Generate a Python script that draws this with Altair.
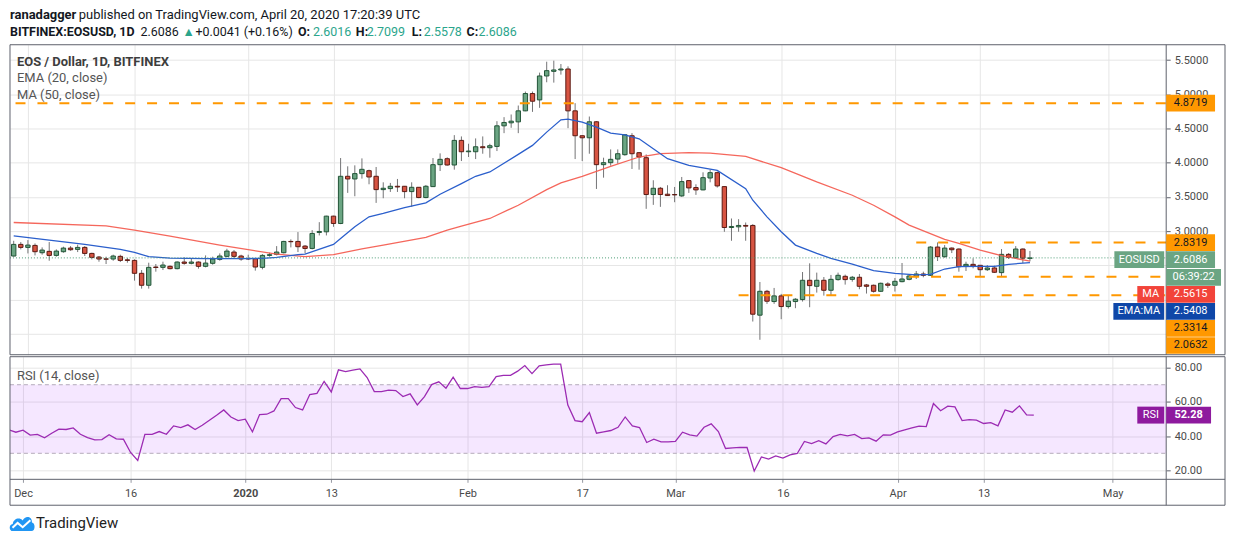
import altair as alt
import pandas as pd

# ---------------- values ----------------
start_date = "2019-11-29"   # first (partly hidden) daily candle

opens = [
    2.636, 2.806,
    2.762, 2.791, 2.684, 2.704, 2.645, 2.699, 2.752, 2.733, 2.762, 2.674,
    2.621, 2.594, 2.592, 2.631, 2.580, 2.572, 2.383, 2.208, 2.475, 2.470,
    2.485, 2.451, 2.548, 2.529, 2.548, 2.485, 2.529, 2.587, 2.631, 2.694, 2.636,
    2.598, 2.597, 2.470, 2.645, 2.660, 2.684, 2.849, 2.849, 2.781, 2.747,
    2.981, 2.990, 3.219, 3.112, 3.802, 3.763, 3.841, 3.884, 3.802, 3.607,
    3.622, 3.656, 3.656, 3.578, 3.641, 3.491, 3.651, 3.972, 4.059, 3.967, 4.327,
    4.161, 4.161, 4.234, 4.220, 4.239, 4.540, 4.584, 4.598, 4.759, 5.012,
    4.919, 5.269, 5.337, 5.357, 5.371, 4.759, 4.395, 4.365, 4.599, 3.972,
    4.001, 4.054, 4.118, 4.395, 4.147, 4.074, 3.535, 3.627, 3.540,
    3.535, 3.515, 3.739, 3.637, 3.603, 3.777, 3.855, 3.651, 3.053, 3.063,
    3.083, 3.083, 1.771, 2.120, 1.970, 2.053, 1.897, 1.970, 1.999, 2.281,
    2.193, 2.281, 2.135, 2.291, 2.339, 2.295, 2.325, 2.213, 2.208, 2.120, 2.227,
    2.208, 2.261, 2.295, 2.339, 2.373, 2.354, 2.767, 2.626, 2.752, 2.738,
    2.490, 2.514, 2.500, 2.436, 2.461, 2.393, 2.660, 2.611, 2.738, 2.6016,
]
highs = [
    2.859, 2.840,
    2.869, 2.820, 2.762, 2.840, 2.733, 2.772, 2.781, 2.801, 2.781, 2.684,
    2.636, 2.626, 2.655, 2.655, 2.606, 2.587, 2.431, 2.538, 2.519, 2.553,
    2.499, 2.558, 2.616, 2.606, 2.558, 2.645, 2.626, 2.674, 2.742, 2.723, 2.655,
    2.655, 2.606, 2.664, 2.684, 2.781, 2.859, 2.879, 2.986, 2.796, 3.015,
    3.131, 3.225, 3.225, 4.069, 3.948, 3.962, 4.064, 3.899, 3.938, 3.714,
    3.705, 3.763, 3.660, 3.714, 3.645, 3.675, 4.069, 4.137, 4.079, 4.404, 4.385,
    4.278, 4.356, 4.385, 4.278, 4.608, 4.667, 4.706, 4.837, 5.041, 5.041,
    5.318, 5.478, 5.493, 5.444, 5.410, 4.871, 4.400, 4.676, 4.608, 4.074,
    4.195, 4.195, 4.414, 4.433, 4.157, 4.122, 3.744, 3.646, 3.671,
    3.646, 3.792, 3.744, 3.685, 3.860, 3.899, 3.870, 3.656, 3.185, 3.175,
    3.126, 3.102, 2.256, 2.140, 2.169, 2.082, 2.057, 2.019, 2.402, 2.529,
    2.393, 2.329, 2.359, 2.393, 2.364, 2.344, 2.373, 2.227, 2.218, 2.247, 2.252,
    2.315, 2.534, 2.368, 2.417, 2.407, 2.781, 2.835, 2.796, 2.762, 2.747,
    2.553, 2.602, 2.504, 2.504, 2.495, 2.738, 2.679, 2.781, 2.747, 2.7099,
]
lows = [
    2.626, 2.733,
    2.674, 2.645, 2.655, 2.567, 2.626, 2.684, 2.713, 2.694, 2.636, 2.587,
    2.553, 2.519, 2.567, 2.548, 2.538, 2.276, 2.159, 2.159, 2.407, 2.431,
    2.441, 2.441, 2.509, 2.514, 2.451, 2.470, 2.509, 2.567, 2.616, 2.606, 2.567,
    2.577, 2.422, 2.441, 2.626, 2.645, 2.674, 2.762, 2.694, 2.674, 2.733,
    2.937, 2.937, 3.063, 3.102, 3.559, 3.510, 3.768, 3.685, 3.413, 3.481,
    3.573, 3.573, 3.481, 3.355, 3.481, 3.481, 3.646, 3.879, 3.957, 3.899, 4.025,
    4.084, 4.054, 4.132, 4.074, 4.171, 4.433, 4.511, 4.433, 4.754, 4.744,
    4.803, 5.177, 5.172, 5.289, 4.506, 4.054, 4.025, 4.132, 3.617, 3.782,
    3.957, 3.986, 4.103, 3.909, 3.899, 3.326, 3.384, 3.355, 3.515,
    3.423, 3.501, 3.559, 3.530, 3.598, 3.714, 3.637, 2.990, 2.859, 2.990,
    2.859, 1.678, 1.411, 1.936, 1.936, 1.712, 1.868, 1.873, 1.970, 1.887,
    2.101, 2.057, 2.057, 2.276, 2.218, 2.261, 2.150, 2.087, 2.101, 2.111, 2.169,
    2.116, 2.252, 2.281, 2.300, 2.325, 2.344, 2.563, 2.611, 2.679, 2.407,
    2.417, 2.456, 2.329, 2.417, 2.388, 2.334, 2.592, 2.597, 2.534, 2.5578,
]
closes = [
    2.806, 2.762,
    2.796, 2.699, 2.723, 2.645, 2.708, 2.752, 2.728, 2.762, 2.674, 2.616,
    2.592, 2.590, 2.636, 2.572, 2.572, 2.383, 2.208, 2.470, 2.468, 2.504,
    2.451, 2.548, 2.529, 2.548, 2.485, 2.533, 2.592, 2.636, 2.708, 2.631, 2.592,
    2.594, 2.475, 2.645, 2.655, 2.694, 2.849, 2.845, 2.772, 2.747, 2.966,
    2.995, 3.219, 3.112, 3.802, 3.763, 3.841, 3.904, 3.792, 3.607, 3.627,
    3.656, 3.646, 3.578, 3.641, 3.491, 3.656, 3.972, 4.050, 3.967, 4.327, 4.161,
    4.171, 4.234, 4.220, 4.249, 4.540, 4.589, 4.608, 4.759, 5.012, 4.900,
    5.269, 5.347, 5.357, 5.371, 4.759, 4.395, 4.365, 4.599, 3.972, 4.001,
    4.050, 4.132, 4.409, 4.132, 4.084, 3.535, 3.627, 3.535, 3.520,
    3.530, 3.724, 3.632, 3.603, 3.782, 3.855, 3.661, 3.053, 3.068, 3.083,
    3.073, 1.785, 2.120, 1.975, 2.053, 1.897, 1.975, 2.004, 2.281, 2.203,
    2.281, 2.135, 2.295, 2.354, 2.291, 2.325, 2.193, 2.193, 2.120, 2.237, 2.208,
    2.266, 2.300, 2.344, 2.373, 2.354, 2.767, 2.626, 2.752, 2.728, 2.480,
    2.514, 2.490, 2.436, 2.461, 2.398, 2.660, 2.616, 2.738, 2.6045, 2.6086,
]
rsi_values = [
    43.7, 42.3, 43.5, 40.6, 41.0, 39.0, 41.7, 44.1, 43.9, 44.8,
    41.1, 39.2, 37.8, 38.0, 40.8, 38.4, 38.2, 30.5, 25.8, 41.1,
    41.1, 42.7, 41.1, 46.0, 45.0, 46.6, 43.9, 46.4, 49.3, 52.2,
    55.3, 51.2, 49.1, 49.9, 42.5, 52.6, 52.8, 54.7, 61.9, 61.9,
    56.7, 55.3, 64.3, 65.0, 71.9, 65.8, 78.7, 77.7, 78.5, 79.2,
    74.2, 66.0, 66.0, 66.8, 66.6, 63.1, 64.7, 58.2, 63.1, 70.1,
    71.7, 68.0, 74.4, 67.8, 67.8, 68.9, 68.5, 68.9, 74.8, 75.5,
    75.5, 77.9, 81.2, 76.5, 81.0, 81.6, 82.0, 82.0, 58.1, 49.1,
    48.4, 53.8, 41.7, 42.5, 43.3, 45.2, 51.2, 46.0, 45.0, 36.3,
    38.2, 36.7, 36.7, 36.9, 42.3, 40.8, 40.0, 45.2, 47.2, 42.7,
    32.8, 33.2, 33.4, 33.4, 19.6, 27.9, 26.6, 28.5, 27.2, 29.1,
    29.9, 36.9, 35.7, 37.4, 35.5, 39.8, 41.0, 40.2, 41.0, 38.6,
    39.0, 37.1, 40.8, 40.6, 42.5, 43.7, 44.8, 45.8, 45.6, 59.0,
    54.8, 57.5, 57.1, 49.1, 49.7, 49.3, 47.4, 47.9, 46.0, 55.3,
    54.0, 57.7, 52.4, 52.28,
]
ema_dates = [
    "2019-11-29", "2019-12-04", "2019-12-09", "2019-12-14", "2019-12-16", "2019-12-18",
    "2019-12-21", "2019-12-26", "2019-12-31", "2020-01-03", "2020-01-05", "2020-01-08",
    "2020-01-09", "2020-01-13", "2020-01-14", "2020-01-16", "2020-01-18", "2020-01-20",
    "2020-01-23", "2020-01-26", "2020-01-28", "2020-01-31", "2020-02-02", "2020-02-04",
    "2020-02-08", "2020-02-10", "2020-02-12", "2020-02-14", "2020-02-15", "2020-02-17",
    "2020-02-19", "2020-02-21", "2020-02-23", "2020-02-25", "2020-02-27", "2020-02-29",
    "2020-03-03", "2020-03-07", "2020-03-11", "2020-03-12", "2020-03-14", "2020-03-16",
    "2020-03-18", "2020-03-21", "2020-03-23", "2020-03-26", "2020-03-29", "2020-04-01",
    "2020-04-04", "2020-04-06", "2020-04-08", "2020-04-10", "2020-04-13", "2020-04-15",
    "2020-04-17", "2020-04-20",
]
ema_values = [
    2.932, 2.869, 2.806, 2.733, 2.689, 2.626,
    2.606, 2.597, 2.597, 2.601, 2.616, 2.655,
    2.665, 2.806, 2.893, 3.063, 3.209, 3.258,
    3.345, 3.413, 3.539, 3.695, 3.802, 3.865,
    4.122, 4.254, 4.448, 4.628, 4.638, 4.594,
    4.521, 4.433, 4.409, 4.351, 4.205, 4.059,
    3.962, 3.889, 3.622, 3.452, 3.209, 2.990,
    2.796, 2.674, 2.602, 2.519, 2.422, 2.383,
    2.359, 2.368, 2.446, 2.480, 2.485, 2.485,
    2.514, 2.5408,
]
ma_dates = [
    "2019-11-29", "2019-12-12", "2019-12-16", "2019-12-21", "2019-12-28", "2020-01-01",
    "2020-01-05", "2020-01-09", "2020-01-13", "2020-01-17", "2020-01-20", "2020-01-26",
    "2020-01-29", "2020-01-31", "2020-02-04", "2020-02-08", "2020-02-12", "2020-02-14",
    "2020-02-17", "2020-02-21", "2020-02-25", "2020-02-28", "2020-03-03", "2020-03-06",
    "2020-03-11", "2020-03-16", "2020-03-21", "2020-03-26", "2020-03-29", "2020-04-01",
    "2020-04-03", "2020-04-08", "2020-04-10", "2020-04-13", "2020-04-16", "2020-04-20",
]
ma_values = [
    3.126, 3.078, 3.014, 2.927, 2.796, 2.728,
    2.665, 2.626, 2.655, 2.742, 2.796, 2.908,
    3.015, 3.073, 3.185, 3.379, 3.607, 3.705,
    3.802, 3.948, 4.084, 4.132, 4.147, 4.142,
    4.093, 3.928, 3.719, 3.525, 3.379, 3.209,
    3.088, 2.880, 2.820, 2.723, 2.640, 2.5615,
]
level_values = [4.8719, 2.8319, 2.3314, 2.0632]
level_starts = ["2019-11-20", "2020-04-04", "2020-04-03", "2020-03-10"]
level_end = "2020-05-20"
last_price = 2.6086
ma_last = 2.5615
ema_last = 2.5408
rsi_last = 52.28
countdown = "06:39:22"
price_ticks = [1.5, 2.0, 2.5, 3.0, 3.5, 4.0, 4.5, 5.0, 5.5]
rsi_ticks = [20, 40, 60, 80]
rsi_band = [30, 70]
tick_dates = ["2019-12-01", "2019-12-16", "2020-01-01", "2020-01-13", "2020-02-01", "2020-02-17",
              "2020-03-01", "2020-03-16", "2020-04-01", "2020-04-13", "2020-05-01"]
tick_labels = ["Dec", "16", "2020", "13", "Feb", "17", "Mar", "16", "Apr", "13", "May"]

header_line1 = ["ranadagger", "published on TradingView.com, April 20, 2020 17:20:39 UTC"]
header_line2 = ["BITFINEX:EOSUSD, 1D", "2.6086", "\u25B2", "+0.0041 (+0.16%)", "O:", "2.6016",
                "H:", "2.7099", "L:", "2.5578", "C:", "2.6086"]
legend_lines = ["EOS / Dollar, 1D, BITFINEX", "EMA (20, close)", "MA (50, close)"]

# ---------------- layout & style ----------------
FONT = "Roboto"
W, H = 1160, 311          # price pane
H2 = 123                  # RSI pane
AXW = 59                  # right price-axis strip up to the frame
TAX = 26                  # time-axis strip
HEAD_H = 35
Y_TOP, Y_BOT = 5.7259, 1.1924
R_TOP, R_BOT = 86.34, 14.83
PPU = H / (Y_TOP - Y_BOT)
RPU = H2 / (R_TOP - R_BOT)

GRID = "#e6e6e6"
FRAME = "#5d606b"
LABEL = "#4a4a4a"
ORANGE = "#FF9800"
UP_FILL, UP_LINE = "#6BA583", "#225437"
DN_FILL, DN_LINE = "#D75442", "#5B1A13"
WICK = "#737375"
EMA_COL = "#2B5FCC"
MA_COL = "#F4574A"
RSI_COL = "#9C2BB3"
RSI_TAG = "#8E1A9E"
TEAL = "#2BA58C"
DARK = "#131722"

header_x1 = [0, 69]
header_x2 = [0, 131, 173, 186, 289, 304, 347, 358, 403, 415, 458, 470]
header_w2 = ["bold", "normal", "normal", "normal", "bold", "normal", "bold", "normal", "bold",
             "normal", "bold", "normal"]
header_c2 = [DARK, DARK, TEAL, DARK, DARK, TEAL, DARK, TEAL, DARK, TEAL, DARK, TEAL]

# axis tags on the price scale, stacked so they do not overlap
tag_values = [level_values[0], level_values[1], last_price, None, ma_last, ema_last,
              level_values[2], level_values[3]]
tag_names = [None, None, "EOSUSD", None, "MA", "EMA:MA", None, None]
tag_fill = [ORANGE, ORANGE, UP_FILL, UP_FILL, "#F2443A", "#0F47A8", ORANGE, ORANGE]
tag_ink = [DARK, DARK, "white", "white", "white", "white", DARK, DARK]
tag_w = [49, 49, 49, 55, 49, 49, 49, 49]
name_w = [0, 0, 50, 0, 27, 51, 0, 0]
TAG_H, GAP = 16.7, 0.4

tag_boxes = []
prev_bottom = -1e9
for v in tag_values:
    if v is None:
        top = prev_bottom + GAP + 0.6
    else:
        top = max((Y_TOP - v) * PPU - TAG_H / 2, prev_bottom + GAP)
    bottom = top + TAG_H
    prev_bottom = bottom
    tag_boxes.append((top, bottom))

# price-axis labels that sit under a tag are left blank, as on the reference
hidden = [p for p in price_ticks
          if any(t <= (Y_TOP - p) * PPU <= b for t, b in tag_boxes)]
price_label_expr = "format(datum.value, '.4f')"
for p in hidden:
    price_label_expr = f"abs(datum.value - {p}) < 1e-6 ? '' : " + price_label_expr


def dt(s, hours=0, minutes=0):
    t = pd.Timestamp(s)
    return alt.DateTime(year=t.year, month=t.month, date=t.day, hours=hours, minutes=minutes, utc=True)


x_scale = alt.Scale(type="utc", domain=[dt("2019-11-29", 4, 19), dt("2020-05-08", 11, 17)])
y_scale = alt.Scale(domain=[Y_BOT, Y_TOP], nice=False, zero=False)
r_scale = alt.Scale(domain=[R_BOT, R_TOP], nice=False, zero=False)

label_expr = "''"
for d, lab in reversed(list(zip(tick_dates, tick_labels))):
    label_expr = f"utcFormat(datum.value, '%Y-%m-%d') == '{d}' ? '{lab}' : " + label_expr

x_axis_main = alt.Axis(values=[dt(d) for d in tick_dates], grid=True, gridColor=GRID, labels=False,
                       ticks=False, domain=False, title=None, minExtent=0)
x_axis_rsi = alt.Axis(values=[dt(d) for d in tick_dates], grid=True, gridColor=GRID, labels=True,
                      labelExpr=label_expr, ticks=True, tickSize=3, tickColor="#9598a1", domain=False,
                      title=None, labelFontSize=11, labelColor=LABEL, labelPadding=11,
                      labelBaseline="middle", labelFlush=False, labelOverlap=False, labelFont=FONT,
                      labelFontWeight={"condition": {"test": "utcdate(datum.value) == 1 && utcmonth(datum.value) == 0",
                                                     "value": "bold"}, "value": "normal"})
y_axis_main = alt.Axis(orient="right", values=price_ticks, labelExpr=price_label_expr, grid=True,
                       gridColor=GRID, domain=False, ticks=True, tickSize=4, tickColor=FRAME,
                       labelPadding=4, labelFontSize=11, labelColor=LABEL, title=None,
                       labelOverlap=False, labelFont=FONT)
y_axis_rsi = alt.Axis(orient="right", values=rsi_ticks, format=".2f", grid=True, gridColor=GRID,
                      domain=False, ticks=True, tickSize=4, tickColor=FRAME, labelPadding=4,
                      labelFontSize=11, labelColor=LABEL, title=None, labelOverlap=False, labelFont=FONT)


def XM(f):
    return alt.X(f, type="temporal", scale=x_scale, axis=x_axis_main)


def XR(f):
    return alt.X(f, type="temporal", scale=x_scale, axis=x_axis_rsi)


def YM(f):
    return alt.Y(f, type="quantitative", scale=y_scale, axis=y_axis_main)


def YR(f):
    return alt.Y(f, type="quantitative", scale=r_scale, axis=y_axis_rsi)


ONE = pd.DataFrame({"k": [0]})

# ---------------- tables ----------------
dates = pd.date_range(start_date, periods=len(closes), freq="D").strftime("%Y-%m-%d")
candles = pd.DataFrame({"date": dates, "open": opens, "high": highs, "low": lows, "close": closes})
candles["lo"] = candles[["open", "close"]].min(axis=1)
candles["hi"] = candles[["open", "close"]].max(axis=1)
candles["dir"] = ["up" if c >= o else "down" for o, c in zip(opens, closes)]
rsi_df = pd.DataFrame({"date": dates, "rsi": rsi_values})
ema_df = pd.DataFrame({"date": ema_dates, "v": ema_values})
ma_df = pd.DataFrame({"date": ma_dates, "v": ma_values})
levels_df = pd.DataFrame({"start": level_starts, "end": [level_end] * len(level_values), "v": level_values})

# ---------------- price pane ----------------
wicks = alt.Chart(candles).mark_rule(color=WICK, strokeWidth=1, clip=True).encode(
    x=XM("date"), y=YM("low"), y2="high")
bodies = alt.Chart(candles).mark_bar(size=4.4, strokeWidth=1, clip=True).encode(
    x=XM("date"), y=YM("lo"), y2="hi",
    fill=alt.Fill("dir:N", scale=alt.Scale(domain=["up", "down"], range=[UP_FILL, DN_FILL]), legend=None),
    stroke=alt.Stroke("dir:N", scale=alt.Scale(domain=["up", "down"], range=[UP_LINE, DN_LINE]), legend=None))
ma_line = alt.Chart(ma_df).mark_line(color=MA_COL, strokeWidth=1.3, opacity=0.9, clip=True).encode(
    x=XM("date"), y=YM("v"))
ema_line = alt.Chart(ema_df).mark_line(color=EMA_COL, strokeWidth=1.3, clip=True).encode(
    x=XM("date"), y=YM("v"))
level_rules = alt.Chart(levels_df).mark_rule(color=ORANGE, strokeWidth=2, strokeDash=[10, 12], clip=True).encode(
    x=XM("start"), x2="end", y=YM("v"))
price_line = alt.Chart(pd.DataFrame({"p": [last_price]})).mark_rule(
    color="#4E9E76", strokeWidth=1, strokeDash=[1, 2]).encode(y=YM("p"), x=alt.value(0), x2=alt.value(W))
frame_main = alt.Chart(ONE).mark_rect(fill=None, stroke=FRAME, strokeWidth=1).encode(
    x=alt.value(0), x2=alt.value(W + AXW), y=alt.value(0), y2=alt.value(H))
axis_rule_main = alt.Chart(ONE).mark_rule(color=FRAME, strokeWidth=1).encode(
    x=alt.value(W), y=alt.value(0), y2=alt.value(H))
legend_layers = [
    alt.Chart(ONE).mark_text(text=t, align="left", baseline="middle", font=FONT, fontSize=13,
                             color=("#3d3d3d" if i == 0 else "#555555"),
                             fontWeight=("bold" if i == 0 else "normal")).encode(
        x=alt.value(7), y=alt.value(17 + 16.5 * i))
    for i, t in enumerate(legend_lines)
]

tag_layers = []
for (top, bottom), v, nm, fc, ink, tw, nw in zip(tag_boxes, tag_values, tag_names, tag_fill, tag_ink,
                                                 tag_w, name_w):
    txt = countdown if v is None else f"{v:.4f}"
    row = pd.DataFrame({"t": [Y_TOP - top / PPU], "b": [Y_TOP - bottom / PPU],
                        "m": [Y_TOP - (top + bottom) / 2 / PPU]})
    tag_layers.append(alt.Chart(row).mark_rect(color=fc).encode(
        x=alt.value(W), x2=alt.value(W + tw), y=YM("t"), y2="b"))
    tag_layers.append(alt.Chart(row).mark_text(text=txt, align="center", baseline="middle", font=FONT,
                                               fontSize=11, color=ink).encode(
        x=alt.value(W + tw / 2), y=YM("m")))
    if nm:
        tag_layers.append(alt.Chart(row).mark_rect(color=fc).encode(
            x=alt.value(W - 2 - nw), x2=alt.value(W - 2), y=YM("t"), y2="b"))
        tag_layers.append(alt.Chart(row).mark_text(text=nm, align="center", baseline="middle", font=FONT,
                                                   fontSize=11, color="white").encode(
            x=alt.value(W - 2 - nw / 2), y=YM("m")))

main = alt.layer(
    wicks, bodies, ma_line, ema_line, level_rules, price_line,
    frame_main, axis_rule_main, *legend_layers, *tag_layers,
).properties(width=W, height=H)

# ---------------- RSI pane ----------------
band = alt.Chart(ONE).mark_rect(color="#9915FF", opacity=0.1).encode(
    x=alt.value(0), x2=alt.value(W), y=alt.datum(rsi_band[1], scale=r_scale), y2=alt.datum(rsi_band[0]))
band_lines = [
    alt.Chart(ONE).mark_rule(color="#b4abbb", strokeWidth=1, strokeDash=[4, 3]).encode(
        x=alt.value(0), x2=alt.value(W), y=alt.datum(b, scale=r_scale))
    for b in rsi_band
]
rsi_line = alt.Chart(rsi_df).mark_line(color=RSI_COL, strokeWidth=1.3, clip=True).encode(
    x=XR("date"), y=YR("rsi"))
frame_rsi = alt.Chart(ONE).mark_rect(fill=None, stroke=FRAME, strokeWidth=1).encode(
    x=alt.value(0), x2=alt.value(W + AXW), y=alt.value(0), y2=alt.value(H2 + TAX))
time_rule = alt.Chart(ONE).mark_rule(color=FRAME, strokeWidth=1).encode(
    x=alt.value(0), x2=alt.value(W + AXW), y=alt.value(H2))
axis_rule_rsi = alt.Chart(ONE).mark_rule(color=FRAME, strokeWidth=1).encode(
    x=alt.value(W), y=alt.value(0), y2=alt.value(H2 + TAX))
rsi_label = alt.Chart(ONE).mark_text(text="RSI (14, close)", align="left", baseline="middle", font=FONT,
                                     fontSize=13, color="#555555").encode(x=alt.value(7), y=alt.value(19))
half = 8.5 / RPU
rsi_row = pd.DataFrame({"t": [rsi_last + half], "b": [rsi_last - half], "m": [rsi_last]})
rsi_tags = [
    alt.Chart(rsi_row).mark_rect(color=RSI_TAG).encode(x=alt.value(W), x2=alt.value(W + 45), y=YR("t"), y2="b"),
    alt.Chart(rsi_row).mark_text(text=f"{rsi_last:.2f}", align="center", baseline="middle", font=FONT,
                                 fontSize=11, color="white", fontWeight="bold").encode(
        x=alt.value(W + 22.5), y=YR("m")),
    alt.Chart(rsi_row).mark_rect(color=RSI_TAG).encode(x=alt.value(W - 29), x2=alt.value(W - 2), y=YR("t"), y2="b"),
    alt.Chart(rsi_row).mark_text(text="RSI", align="center", baseline="middle", font=FONT,
                                 fontSize=11, color="white").encode(x=alt.value(W - 15.5), y=YR("m")),
]
CLOUD = ("M-0.72,0.62 C-1.02,0.62 -1.05,0.1 -0.72,0.06 C-0.66,-0.34 -0.2,-0.5 0.06,-0.2 "
         "C0.22,-0.62 0.8,-0.56 0.78,-0.06 C1.06,-0.02 1.06,0.62 0.74,0.62 Z")
ZIG = "M-0.74,0.36 L-0.34,-0.02 L0.06,0.32 L0.66,-0.22"
logo_y = H2 + TAX + 18
logo = [
    alt.Chart(ONE).mark_point(shape=CLOUD, size=660, filled=True, color="#2196F3", opacity=1,
                              strokeWidth=0).encode(x=alt.value(12), y=alt.value(logo_y)),
    alt.Chart(ONE).mark_point(shape=ZIG, size=660, filled=False, color="white", opacity=1,
                              strokeWidth=2).encode(x=alt.value(12), y=alt.value(logo_y)),
    alt.Chart(ONE).mark_text(text="TradingView", align="left", baseline="middle", font=FONT, fontSize=15,
                             color="#222222").encode(x=alt.value(26), y=alt.value(logo_y)),
]

rsi = alt.layer(
    band, *band_lines, rsi_line, frame_rsi, time_rule, axis_rule_rsi, rsi_label, *rsi_tags, *logo,
).properties(width=W, height=H2)

# ---------------- header ----------------
head_layers = []
for t, x, wgt in zip(header_line1, header_x1, ["bold", "normal"]):
    head_layers.append(alt.Chart(ONE).mark_text(text=t, align="left", baseline="top", font=FONT, fontSize=13,
                                                fontWeight=wgt, color=DARK).encode(x=alt.value(x), y=alt.value(0)))
for t, x, wgt, c in zip(header_line2, header_x2, header_w2, header_c2):
    head_layers.append(alt.Chart(ONE).mark_text(text=t, align="left", baseline="top", font=FONT, fontSize=12.5,
                                                fontWeight=wgt, color=c).encode(x=alt.value(x), y=alt.value(17)))
header = alt.layer(*head_layers).properties(width=W + AXW, height=HEAD_H)

chart = alt.vconcat(header, main, rsi, spacing=0).properties(
    padding=0, background="white"
).configure(font=FONT).configure_view(stroke=None)

chart.save("out.html", embed_options={"renderer": "svg", "actions": False})
